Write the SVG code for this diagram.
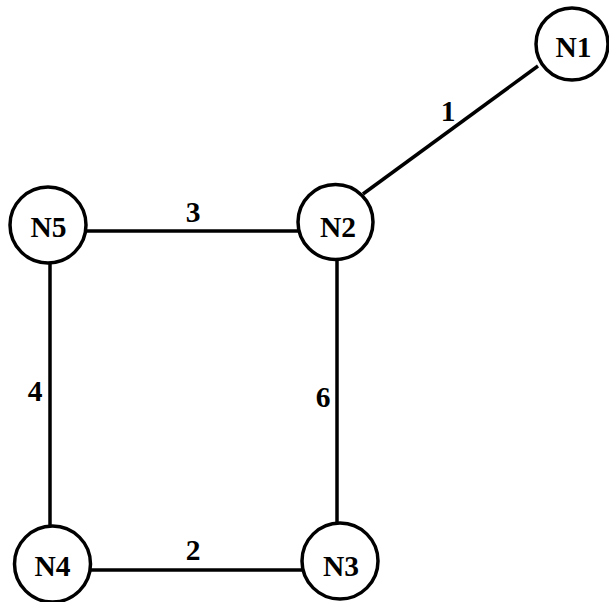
<svg xmlns="http://www.w3.org/2000/svg" width="609" height="602" viewBox="0 0 609 602">
<style>
.node circle{fill:#fff;stroke:#000;stroke-width:3.5}
.node text,.lbl{font-family:"Liberation Serif","Times New Roman",serif;font-weight:bold;font-size:29.5px;fill:#000;text-anchor:middle}
#edges line{stroke:#000;stroke-width:3.5}
</style>
<rect width="609" height="602" fill="#fff"/>
<g id="edges">
<line x1="538" y1="66" x2="363" y2="194"/>
<line x1="86" y1="231" x2="299" y2="231"/>
<line x1="50" y1="262" x2="50" y2="527"/>
<line x1="90" y1="570" x2="303" y2="570"/>
<line x1="337" y1="259" x2="337" y2="524"/>
<text class="lbl" x="448" y="121">1</text>
<text class="lbl" x="193" y="222">3</text>
<text class="lbl" x="193" y="560">2</text>
<text class="lbl" x="35" y="401">4</text>
<text class="lbl" x="323" y="407">6</text>
</g>
<g id="N1" class="node"><circle cx="572" cy="44" r="36"/><text x="573.5" y="57">N1</text></g>
<g id="N2" class="node"><circle cx="335.5" cy="222" r="37.5"/><text x="338" y="237">N2</text></g>
<g id="N5" class="node"><circle cx="48" cy="225" r="38"/><text x="48.5" y="237">N5</text></g>
<g id="N4" class="node"><circle cx="52.5" cy="564" r="38"/><text x="52.5" y="576">N4</text></g>
<g id="N3" class="node"><circle cx="340" cy="561" r="38"/><text x="341" y="576">N3</text></g>
</svg>
